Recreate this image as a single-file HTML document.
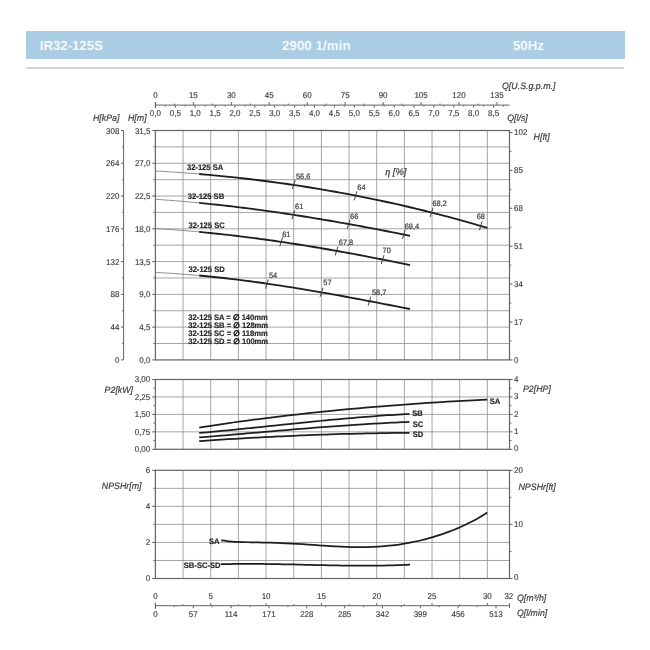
<!DOCTYPE html>
<html><head><meta charset="utf-8"><title>IR32-125S</title>
<style>
html,body{margin:0;padding:0;background:#fff;}
body{width:650px;height:650px;position:relative;overflow:hidden;font-family:"Liberation Sans",sans-serif;}
.bar{position:absolute;left:26.2px;top:30.7px;width:599.2px;height:28.5px;background:#aacde4;}
.bar span.m{letter-spacing:0.12px;}
.bar span{text-rendering:geometricPrecision;position:absolute;top:0;line-height:30.6px;color:#f5f9fc;font-weight:bold;font-size:13.2px;white-space:nowrap;}
.rule{position:absolute;left:26.2px;top:67.2px;width:598px;height:1.6px;background:#d2d2d2;}
svg{position:absolute;left:0;top:0;text-rendering:geometricPrecision;will-change:transform;}
svg text{font-family:"Liberation Sans",sans-serif;fill:#3a3a3a;}
.t{font-size:8.4px;stroke:#3a3a3a;stroke-width:0.15px;}
.e{font-size:7.8px;stroke:#3a3a3a;stroke-width:0.2px;}
.i{font-size:9.2px;font-style:italic;stroke:#3a3a3a;stroke-width:0.18px;}
.b{font-size:8px;font-weight:bold;fill:#262626;stroke:#262626;stroke-width:0.18px;}
</style></head>
<body>
<div class="bar"><span style="left:13.6px">IR32-125S</span><span class="m" style="left:255.8px">2900 1/min</span><span style="left:486.8px">50Hz</span></div>
<div class="rule"></div>
<svg width="650" height="650" viewBox="0 0 650 650">
<line x1="183.06" y1="130.50" x2="183.06" y2="359.90" stroke="#8e8e8e" stroke-width="0.8"/>
<line x1="210.73" y1="130.50" x2="210.73" y2="359.90" stroke="#8e8e8e" stroke-width="0.8"/>
<line x1="238.39" y1="130.50" x2="238.39" y2="359.90" stroke="#8e8e8e" stroke-width="0.8"/>
<line x1="266.06" y1="130.50" x2="266.06" y2="359.90" stroke="#8e8e8e" stroke-width="0.8"/>
<line x1="293.72" y1="130.50" x2="293.72" y2="359.90" stroke="#8e8e8e" stroke-width="0.8"/>
<line x1="321.38" y1="130.50" x2="321.38" y2="359.90" stroke="#8e8e8e" stroke-width="0.8"/>
<line x1="349.05" y1="130.50" x2="349.05" y2="359.90" stroke="#8e8e8e" stroke-width="0.8"/>
<line x1="376.71" y1="130.50" x2="376.71" y2="359.90" stroke="#8e8e8e" stroke-width="0.8"/>
<line x1="404.38" y1="130.50" x2="404.38" y2="359.90" stroke="#8e8e8e" stroke-width="0.8"/>
<line x1="432.04" y1="130.50" x2="432.04" y2="359.90" stroke="#8e8e8e" stroke-width="0.8"/>
<line x1="459.70" y1="130.50" x2="459.70" y2="359.90" stroke="#8e8e8e" stroke-width="0.8"/>
<line x1="487.37" y1="130.50" x2="487.37" y2="359.90" stroke="#8e8e8e" stroke-width="0.8"/>
<line x1="155.40" y1="146.89" x2="509.50" y2="146.89" stroke="#8e8e8e" stroke-width="0.8"/>
<line x1="155.40" y1="163.27" x2="509.50" y2="163.27" stroke="#8e8e8e" stroke-width="0.8"/>
<line x1="155.40" y1="179.66" x2="509.50" y2="179.66" stroke="#8e8e8e" stroke-width="0.8"/>
<line x1="155.40" y1="196.04" x2="509.50" y2="196.04" stroke="#8e8e8e" stroke-width="0.8"/>
<line x1="155.40" y1="212.43" x2="509.50" y2="212.43" stroke="#8e8e8e" stroke-width="0.8"/>
<line x1="155.40" y1="228.81" x2="509.50" y2="228.81" stroke="#8e8e8e" stroke-width="0.8"/>
<line x1="155.40" y1="245.20" x2="509.50" y2="245.20" stroke="#8e8e8e" stroke-width="0.8"/>
<line x1="155.40" y1="261.59" x2="509.50" y2="261.59" stroke="#8e8e8e" stroke-width="0.8"/>
<line x1="155.40" y1="277.97" x2="509.50" y2="277.97" stroke="#8e8e8e" stroke-width="0.8"/>
<line x1="155.40" y1="294.36" x2="509.50" y2="294.36" stroke="#8e8e8e" stroke-width="0.8"/>
<line x1="155.40" y1="310.74" x2="509.50" y2="310.74" stroke="#8e8e8e" stroke-width="0.8"/>
<line x1="155.40" y1="327.13" x2="509.50" y2="327.13" stroke="#8e8e8e" stroke-width="0.8"/>
<line x1="155.40" y1="343.51" x2="509.50" y2="343.51" stroke="#8e8e8e" stroke-width="0.8"/>
<rect x="155.40" y="130.50" width="354.10" height="229.40" fill="none" stroke="#686868" stroke-width="1.25"/>
<line x1="183.06" y1="379.50" x2="183.06" y2="449.30" stroke="#8e8e8e" stroke-width="0.8"/>
<line x1="210.73" y1="379.50" x2="210.73" y2="449.30" stroke="#8e8e8e" stroke-width="0.8"/>
<line x1="238.39" y1="379.50" x2="238.39" y2="449.30" stroke="#8e8e8e" stroke-width="0.8"/>
<line x1="266.06" y1="379.50" x2="266.06" y2="449.30" stroke="#8e8e8e" stroke-width="0.8"/>
<line x1="293.72" y1="379.50" x2="293.72" y2="449.30" stroke="#8e8e8e" stroke-width="0.8"/>
<line x1="321.38" y1="379.50" x2="321.38" y2="449.30" stroke="#8e8e8e" stroke-width="0.8"/>
<line x1="349.05" y1="379.50" x2="349.05" y2="449.30" stroke="#8e8e8e" stroke-width="0.8"/>
<line x1="376.71" y1="379.50" x2="376.71" y2="449.30" stroke="#8e8e8e" stroke-width="0.8"/>
<line x1="404.38" y1="379.50" x2="404.38" y2="449.30" stroke="#8e8e8e" stroke-width="0.8"/>
<line x1="432.04" y1="379.50" x2="432.04" y2="449.30" stroke="#8e8e8e" stroke-width="0.8"/>
<line x1="459.70" y1="379.50" x2="459.70" y2="449.30" stroke="#8e8e8e" stroke-width="0.8"/>
<line x1="487.37" y1="379.50" x2="487.37" y2="449.30" stroke="#8e8e8e" stroke-width="0.8"/>
<line x1="155.40" y1="396.95" x2="509.50" y2="396.95" stroke="#8e8e8e" stroke-width="0.8"/>
<line x1="155.40" y1="414.40" x2="509.50" y2="414.40" stroke="#8e8e8e" stroke-width="0.8"/>
<line x1="155.40" y1="431.85" x2="509.50" y2="431.85" stroke="#8e8e8e" stroke-width="0.8"/>
<rect x="155.40" y="379.50" width="354.10" height="69.80" fill="none" stroke="#686868" stroke-width="1.25"/>
<line x1="183.06" y1="470.30" x2="183.06" y2="578.50" stroke="#8e8e8e" stroke-width="0.8"/>
<line x1="210.73" y1="470.30" x2="210.73" y2="578.50" stroke="#8e8e8e" stroke-width="0.8"/>
<line x1="238.39" y1="470.30" x2="238.39" y2="578.50" stroke="#8e8e8e" stroke-width="0.8"/>
<line x1="266.06" y1="470.30" x2="266.06" y2="578.50" stroke="#8e8e8e" stroke-width="0.8"/>
<line x1="293.72" y1="470.30" x2="293.72" y2="578.50" stroke="#8e8e8e" stroke-width="0.8"/>
<line x1="321.38" y1="470.30" x2="321.38" y2="578.50" stroke="#8e8e8e" stroke-width="0.8"/>
<line x1="349.05" y1="470.30" x2="349.05" y2="578.50" stroke="#8e8e8e" stroke-width="0.8"/>
<line x1="376.71" y1="470.30" x2="376.71" y2="578.50" stroke="#8e8e8e" stroke-width="0.8"/>
<line x1="404.38" y1="470.30" x2="404.38" y2="578.50" stroke="#8e8e8e" stroke-width="0.8"/>
<line x1="432.04" y1="470.30" x2="432.04" y2="578.50" stroke="#8e8e8e" stroke-width="0.8"/>
<line x1="459.70" y1="470.30" x2="459.70" y2="578.50" stroke="#8e8e8e" stroke-width="0.8"/>
<line x1="487.37" y1="470.30" x2="487.37" y2="578.50" stroke="#8e8e8e" stroke-width="0.8"/>
<line x1="155.40" y1="488.33" x2="509.50" y2="488.33" stroke="#8e8e8e" stroke-width="0.8"/>
<line x1="155.40" y1="506.37" x2="509.50" y2="506.37" stroke="#8e8e8e" stroke-width="0.8"/>
<line x1="155.40" y1="524.40" x2="509.50" y2="524.40" stroke="#8e8e8e" stroke-width="0.8"/>
<line x1="155.40" y1="542.43" x2="509.50" y2="542.43" stroke="#8e8e8e" stroke-width="0.8"/>
<line x1="155.40" y1="560.47" x2="509.50" y2="560.47" stroke="#8e8e8e" stroke-width="0.8"/>
<rect x="155.40" y="470.30" width="354.10" height="108.20" fill="none" stroke="#686868" stroke-width="1.25"/>
<line x1="123.60" y1="130.50" x2="123.60" y2="359.90" stroke="#626262" stroke-width="1.0"/>
<line x1="152.20" y1="130.50" x2="155.40" y2="130.50" stroke="#626262" stroke-width="1.0"/>
<line x1="121.00" y1="130.50" x2="123.60" y2="130.50" stroke="#626262" stroke-width="1.0"/>
<text transform="translate(150.40,133.50) scale(0.95,1)" class="t" text-anchor="end">31,5</text>
<text transform="translate(119.40,133.50) scale(0.95,1)" class="t" text-anchor="end">308</text>
<line x1="153.40" y1="146.89" x2="155.40" y2="146.89" stroke="#626262" stroke-width="0.9"/>
<line x1="122.10" y1="146.89" x2="123.60" y2="146.89" stroke="#626262" stroke-width="0.9"/>
<line x1="152.20" y1="163.27" x2="155.40" y2="163.27" stroke="#626262" stroke-width="1.0"/>
<line x1="121.00" y1="163.27" x2="123.60" y2="163.27" stroke="#626262" stroke-width="1.0"/>
<text transform="translate(150.40,166.27) scale(0.95,1)" class="t" text-anchor="end">27,0</text>
<text transform="translate(119.40,166.27) scale(0.95,1)" class="t" text-anchor="end">264</text>
<line x1="153.40" y1="179.66" x2="155.40" y2="179.66" stroke="#626262" stroke-width="0.9"/>
<line x1="122.10" y1="179.66" x2="123.60" y2="179.66" stroke="#626262" stroke-width="0.9"/>
<line x1="152.20" y1="196.04" x2="155.40" y2="196.04" stroke="#626262" stroke-width="1.0"/>
<line x1="121.00" y1="196.04" x2="123.60" y2="196.04" stroke="#626262" stroke-width="1.0"/>
<text transform="translate(150.40,199.04) scale(0.95,1)" class="t" text-anchor="end">22,5</text>
<text transform="translate(119.40,199.04) scale(0.95,1)" class="t" text-anchor="end">220</text>
<line x1="153.40" y1="212.43" x2="155.40" y2="212.43" stroke="#626262" stroke-width="0.9"/>
<line x1="122.10" y1="212.43" x2="123.60" y2="212.43" stroke="#626262" stroke-width="0.9"/>
<line x1="152.20" y1="228.81" x2="155.40" y2="228.81" stroke="#626262" stroke-width="1.0"/>
<line x1="121.00" y1="228.81" x2="123.60" y2="228.81" stroke="#626262" stroke-width="1.0"/>
<text transform="translate(150.40,231.81) scale(0.95,1)" class="t" text-anchor="end">18,0</text>
<text transform="translate(119.40,231.81) scale(0.95,1)" class="t" text-anchor="end">176</text>
<line x1="153.40" y1="245.20" x2="155.40" y2="245.20" stroke="#626262" stroke-width="0.9"/>
<line x1="122.10" y1="245.20" x2="123.60" y2="245.20" stroke="#626262" stroke-width="0.9"/>
<line x1="152.20" y1="261.59" x2="155.40" y2="261.59" stroke="#626262" stroke-width="1.0"/>
<line x1="121.00" y1="261.59" x2="123.60" y2="261.59" stroke="#626262" stroke-width="1.0"/>
<text transform="translate(150.40,264.59) scale(0.95,1)" class="t" text-anchor="end">13,5</text>
<text transform="translate(119.40,264.59) scale(0.95,1)" class="t" text-anchor="end">132</text>
<line x1="153.40" y1="277.97" x2="155.40" y2="277.97" stroke="#626262" stroke-width="0.9"/>
<line x1="122.10" y1="277.97" x2="123.60" y2="277.97" stroke="#626262" stroke-width="0.9"/>
<line x1="152.20" y1="294.36" x2="155.40" y2="294.36" stroke="#626262" stroke-width="1.0"/>
<line x1="121.00" y1="294.36" x2="123.60" y2="294.36" stroke="#626262" stroke-width="1.0"/>
<text transform="translate(150.40,297.36) scale(0.95,1)" class="t" text-anchor="end">9,0</text>
<text transform="translate(119.40,297.36) scale(0.95,1)" class="t" text-anchor="end">88</text>
<line x1="153.40" y1="310.74" x2="155.40" y2="310.74" stroke="#626262" stroke-width="0.9"/>
<line x1="122.10" y1="310.74" x2="123.60" y2="310.74" stroke="#626262" stroke-width="0.9"/>
<line x1="152.20" y1="327.13" x2="155.40" y2="327.13" stroke="#626262" stroke-width="1.0"/>
<line x1="121.00" y1="327.13" x2="123.60" y2="327.13" stroke="#626262" stroke-width="1.0"/>
<text transform="translate(150.40,330.13) scale(0.95,1)" class="t" text-anchor="end">4,5</text>
<text transform="translate(119.40,330.13) scale(0.95,1)" class="t" text-anchor="end">44</text>
<line x1="153.40" y1="343.51" x2="155.40" y2="343.51" stroke="#626262" stroke-width="0.9"/>
<line x1="122.10" y1="343.51" x2="123.60" y2="343.51" stroke="#626262" stroke-width="0.9"/>
<line x1="152.20" y1="359.90" x2="155.40" y2="359.90" stroke="#626262" stroke-width="1.0"/>
<line x1="121.00" y1="359.90" x2="123.60" y2="359.90" stroke="#626262" stroke-width="1.0"/>
<text transform="translate(150.40,362.90) scale(0.95,1)" class="t" text-anchor="end">0,0</text>
<text transform="translate(119.40,362.90) scale(0.95,1)" class="t" text-anchor="end">0</text>
<text transform="translate(93.00,121.20) scale(0.96,1)" class="i" text-anchor="start">H[kPa]</text>
<text transform="translate(128.00,121.20) scale(0.96,1)" class="i" text-anchor="start">H[m]</text>
<line x1="509.50" y1="359.90" x2="512.50" y2="359.90" stroke="#626262" stroke-width="1.0"/>
<line x1="509.50" y1="340.95" x2="511.50" y2="340.95" stroke="#626262" stroke-width="0.9"/>
<line x1="509.50" y1="322.00" x2="512.50" y2="322.00" stroke="#626262" stroke-width="1.0"/>
<line x1="509.50" y1="303.05" x2="511.50" y2="303.05" stroke="#626262" stroke-width="0.9"/>
<line x1="509.50" y1="284.10" x2="512.50" y2="284.10" stroke="#626262" stroke-width="1.0"/>
<line x1="509.50" y1="265.15" x2="511.50" y2="265.15" stroke="#626262" stroke-width="0.9"/>
<line x1="509.50" y1="246.20" x2="512.50" y2="246.20" stroke="#626262" stroke-width="1.0"/>
<line x1="509.50" y1="227.25" x2="511.50" y2="227.25" stroke="#626262" stroke-width="0.9"/>
<line x1="509.50" y1="208.30" x2="512.50" y2="208.30" stroke="#626262" stroke-width="1.0"/>
<line x1="509.50" y1="189.35" x2="511.50" y2="189.35" stroke="#626262" stroke-width="0.9"/>
<line x1="509.50" y1="170.40" x2="512.50" y2="170.40" stroke="#626262" stroke-width="1.0"/>
<line x1="509.50" y1="151.45" x2="511.50" y2="151.45" stroke="#626262" stroke-width="0.9"/>
<line x1="509.50" y1="132.50" x2="512.50" y2="132.50" stroke="#626262" stroke-width="1.0"/>
<text transform="translate(514.10,362.60) scale(0.95,1)" class="t" text-anchor="start">0</text>
<text transform="translate(514.10,324.70) scale(0.95,1)" class="t" text-anchor="start">17</text>
<text transform="translate(514.10,286.80) scale(0.95,1)" class="t" text-anchor="start">34</text>
<text transform="translate(514.10,248.90) scale(0.95,1)" class="t" text-anchor="start">51</text>
<text transform="translate(514.10,211.00) scale(0.95,1)" class="t" text-anchor="start">68</text>
<text transform="translate(514.10,173.10) scale(0.95,1)" class="t" text-anchor="start">85</text>
<text transform="translate(514.10,135.20) scale(0.95,1)" class="t" text-anchor="start">102</text>
<text transform="translate(533.60,139.50) scale(0.96,1)" class="i" text-anchor="start">H[ft]</text>
<line x1="155.40" y1="105.10" x2="509.50" y2="105.10" stroke="#626262" stroke-width="1.0"/>
<line x1="155.40" y1="102.10" x2="155.40" y2="108.10" stroke="#626262" stroke-width="1.0"/>
<line x1="155.40" y1="102.10" x2="155.40" y2="105.10" stroke="#626262" stroke-width="1.0"/>
<text transform="translate(155.40,98.20) scale(0.95,1)" class="t" text-anchor="middle">0</text>
<line x1="174.38" y1="103.50" x2="174.38" y2="105.10" stroke="#626262" stroke-width="0.9"/>
<line x1="193.35" y1="102.10" x2="193.35" y2="105.10" stroke="#626262" stroke-width="1.0"/>
<text transform="translate(193.35,98.20) scale(0.95,1)" class="t" text-anchor="middle">15</text>
<line x1="212.33" y1="103.50" x2="212.33" y2="105.10" stroke="#626262" stroke-width="0.9"/>
<line x1="231.30" y1="102.10" x2="231.30" y2="105.10" stroke="#626262" stroke-width="1.0"/>
<text transform="translate(231.30,98.20) scale(0.95,1)" class="t" text-anchor="middle">30</text>
<line x1="250.28" y1="103.50" x2="250.28" y2="105.10" stroke="#626262" stroke-width="0.9"/>
<line x1="269.25" y1="102.10" x2="269.25" y2="105.10" stroke="#626262" stroke-width="1.0"/>
<text transform="translate(269.25,98.20) scale(0.95,1)" class="t" text-anchor="middle">45</text>
<line x1="288.23" y1="103.50" x2="288.23" y2="105.10" stroke="#626262" stroke-width="0.9"/>
<line x1="307.20" y1="102.10" x2="307.20" y2="105.10" stroke="#626262" stroke-width="1.0"/>
<text transform="translate(307.20,98.20) scale(0.95,1)" class="t" text-anchor="middle">60</text>
<line x1="326.18" y1="103.50" x2="326.18" y2="105.10" stroke="#626262" stroke-width="0.9"/>
<line x1="345.15" y1="102.10" x2="345.15" y2="105.10" stroke="#626262" stroke-width="1.0"/>
<text transform="translate(345.15,98.20) scale(0.95,1)" class="t" text-anchor="middle">75</text>
<line x1="364.12" y1="103.50" x2="364.12" y2="105.10" stroke="#626262" stroke-width="0.9"/>
<line x1="383.10" y1="102.10" x2="383.10" y2="105.10" stroke="#626262" stroke-width="1.0"/>
<text transform="translate(383.10,98.20) scale(0.95,1)" class="t" text-anchor="middle">90</text>
<line x1="402.08" y1="103.50" x2="402.08" y2="105.10" stroke="#626262" stroke-width="0.9"/>
<line x1="421.05" y1="102.10" x2="421.05" y2="105.10" stroke="#626262" stroke-width="1.0"/>
<text transform="translate(421.05,98.20) scale(0.95,1)" class="t" text-anchor="middle">105</text>
<line x1="440.02" y1="103.50" x2="440.02" y2="105.10" stroke="#626262" stroke-width="0.9"/>
<line x1="459.00" y1="102.10" x2="459.00" y2="105.10" stroke="#626262" stroke-width="1.0"/>
<text transform="translate(459.00,98.20) scale(0.95,1)" class="t" text-anchor="middle">120</text>
<line x1="477.98" y1="103.50" x2="477.98" y2="105.10" stroke="#626262" stroke-width="0.9"/>
<line x1="496.95" y1="102.10" x2="496.95" y2="105.10" stroke="#626262" stroke-width="1.0"/>
<text transform="translate(496.95,98.20) scale(0.95,1)" class="t" text-anchor="middle">135</text>
<line x1="155.40" y1="105.10" x2="155.40" y2="107.70" stroke="#626262" stroke-width="1.0"/>
<text transform="translate(155.40,116.20) scale(0.95,1)" class="t" text-anchor="middle">0,0</text>
<line x1="165.34" y1="105.10" x2="165.34" y2="106.60" stroke="#626262" stroke-width="0.9"/>
<line x1="175.29" y1="105.10" x2="175.29" y2="107.70" stroke="#626262" stroke-width="1.0"/>
<text transform="translate(175.29,116.20) scale(0.95,1)" class="t" text-anchor="middle">0,5</text>
<line x1="185.24" y1="105.10" x2="185.24" y2="106.60" stroke="#626262" stroke-width="0.9"/>
<line x1="195.18" y1="105.10" x2="195.18" y2="107.70" stroke="#626262" stroke-width="1.0"/>
<text transform="translate(195.18,116.20) scale(0.95,1)" class="t" text-anchor="middle">1,0</text>
<line x1="205.12" y1="105.10" x2="205.12" y2="106.60" stroke="#626262" stroke-width="0.9"/>
<line x1="215.07" y1="105.10" x2="215.07" y2="107.70" stroke="#626262" stroke-width="1.0"/>
<text transform="translate(215.07,116.20) scale(0.95,1)" class="t" text-anchor="middle">1,5</text>
<line x1="225.02" y1="105.10" x2="225.02" y2="106.60" stroke="#626262" stroke-width="0.9"/>
<line x1="234.96" y1="105.10" x2="234.96" y2="107.70" stroke="#626262" stroke-width="1.0"/>
<text transform="translate(234.96,116.20) scale(0.95,1)" class="t" text-anchor="middle">2,0</text>
<line x1="244.91" y1="105.10" x2="244.91" y2="106.60" stroke="#626262" stroke-width="0.9"/>
<line x1="254.85" y1="105.10" x2="254.85" y2="107.70" stroke="#626262" stroke-width="1.0"/>
<text transform="translate(254.85,116.20) scale(0.95,1)" class="t" text-anchor="middle">2,5</text>
<line x1="264.80" y1="105.10" x2="264.80" y2="106.60" stroke="#626262" stroke-width="0.9"/>
<line x1="274.74" y1="105.10" x2="274.74" y2="107.70" stroke="#626262" stroke-width="1.0"/>
<text transform="translate(274.74,116.20) scale(0.95,1)" class="t" text-anchor="middle">3,0</text>
<line x1="284.69" y1="105.10" x2="284.69" y2="106.60" stroke="#626262" stroke-width="0.9"/>
<line x1="294.63" y1="105.10" x2="294.63" y2="107.70" stroke="#626262" stroke-width="1.0"/>
<text transform="translate(294.63,116.20) scale(0.95,1)" class="t" text-anchor="middle">3,5</text>
<line x1="304.58" y1="105.10" x2="304.58" y2="106.60" stroke="#626262" stroke-width="0.9"/>
<line x1="314.52" y1="105.10" x2="314.52" y2="107.70" stroke="#626262" stroke-width="1.0"/>
<text transform="translate(314.52,116.20) scale(0.95,1)" class="t" text-anchor="middle">4,0</text>
<line x1="324.47" y1="105.10" x2="324.47" y2="106.60" stroke="#626262" stroke-width="0.9"/>
<line x1="334.41" y1="105.10" x2="334.41" y2="107.70" stroke="#626262" stroke-width="1.0"/>
<text transform="translate(334.41,116.20) scale(0.95,1)" class="t" text-anchor="middle">4,5</text>
<line x1="344.36" y1="105.10" x2="344.36" y2="106.60" stroke="#626262" stroke-width="0.9"/>
<line x1="354.30" y1="105.10" x2="354.30" y2="107.70" stroke="#626262" stroke-width="1.0"/>
<text transform="translate(354.30,116.20) scale(0.95,1)" class="t" text-anchor="middle">5,0</text>
<line x1="364.25" y1="105.10" x2="364.25" y2="106.60" stroke="#626262" stroke-width="0.9"/>
<line x1="374.19" y1="105.10" x2="374.19" y2="107.70" stroke="#626262" stroke-width="1.0"/>
<text transform="translate(374.19,116.20) scale(0.95,1)" class="t" text-anchor="middle">5,5</text>
<line x1="384.13" y1="105.10" x2="384.13" y2="106.60" stroke="#626262" stroke-width="0.9"/>
<line x1="394.08" y1="105.10" x2="394.08" y2="107.70" stroke="#626262" stroke-width="1.0"/>
<text transform="translate(394.08,116.20) scale(0.95,1)" class="t" text-anchor="middle">6,0</text>
<line x1="404.02" y1="105.10" x2="404.02" y2="106.60" stroke="#626262" stroke-width="0.9"/>
<line x1="413.97" y1="105.10" x2="413.97" y2="107.70" stroke="#626262" stroke-width="1.0"/>
<text transform="translate(413.97,116.20) scale(0.95,1)" class="t" text-anchor="middle">6,5</text>
<line x1="423.91" y1="105.10" x2="423.91" y2="106.60" stroke="#626262" stroke-width="0.9"/>
<line x1="433.86" y1="105.10" x2="433.86" y2="107.70" stroke="#626262" stroke-width="1.0"/>
<text transform="translate(433.86,116.20) scale(0.95,1)" class="t" text-anchor="middle">7,0</text>
<line x1="443.81" y1="105.10" x2="443.81" y2="106.60" stroke="#626262" stroke-width="0.9"/>
<line x1="453.75" y1="105.10" x2="453.75" y2="107.70" stroke="#626262" stroke-width="1.0"/>
<text transform="translate(453.75,116.20) scale(0.95,1)" class="t" text-anchor="middle">7,5</text>
<line x1="463.70" y1="105.10" x2="463.70" y2="106.60" stroke="#626262" stroke-width="0.9"/>
<line x1="473.64" y1="105.10" x2="473.64" y2="107.70" stroke="#626262" stroke-width="1.0"/>
<text transform="translate(473.64,116.20) scale(0.95,1)" class="t" text-anchor="middle">8,0</text>
<line x1="483.59" y1="105.10" x2="483.59" y2="106.60" stroke="#626262" stroke-width="0.9"/>
<line x1="493.53" y1="105.10" x2="493.53" y2="107.70" stroke="#626262" stroke-width="1.0"/>
<text transform="translate(493.53,116.20) scale(0.95,1)" class="t" text-anchor="middle">8,5</text>
<line x1="503.48" y1="105.10" x2="503.48" y2="106.60" stroke="#626262" stroke-width="0.9"/>
<text transform="translate(502.00,89.00) scale(0.96,1)" class="i" text-anchor="start">Q[U.S.g.p.m.]</text>
<text transform="translate(507.20,121.20) scale(0.96,1)" class="i" text-anchor="start">Q[l/s]</text>
<path d="M155.40,170.96 C156.46,171.03 159.65,171.21 161.77,171.33 C163.90,171.46 166.02,171.59 168.14,171.73 C170.27,171.87 172.39,172.01 174.51,172.15 C176.64,172.30 178.76,172.44 180.89,172.60 C183.01,172.75 185.13,172.91 187.26,173.07 C189.38,173.23 191.50,173.40 193.63,173.57 C195.75,173.74 198.94,174.01 200.00,174.10" fill="none" stroke="#808080" stroke-width="0.9" stroke-linecap="butt"/>
<path d="M199.20,174.03 C200.86,174.17 205.83,174.60 209.14,174.90 C212.45,175.20 215.76,175.51 219.08,175.83 C222.39,176.15 225.70,176.48 229.01,176.83 C232.33,177.17 235.64,177.52 238.95,177.89 C242.26,178.26 245.58,178.63 248.89,179.02 C252.20,179.41 255.51,179.81 258.83,180.22 C262.14,180.63 265.45,181.05 268.77,181.49 C272.08,181.92 275.39,182.37 278.70,182.82 C282.02,183.28 285.33,183.75 288.64,184.23 C291.95,184.71 295.27,185.20 298.58,185.71 C301.89,186.21 305.20,186.73 308.52,187.25 C311.83,187.78 315.14,188.32 318.46,188.87 C321.77,189.42 325.08,189.99 328.39,190.56 C331.71,191.14 335.02,191.73 338.33,192.33 C341.64,192.93 344.96,193.54 348.27,194.16 C351.58,194.79 354.89,195.42 358.21,196.07 C361.52,196.72 364.83,197.38 368.14,198.06 C371.46,198.73 374.77,199.42 378.08,200.12 C381.40,200.82 384.71,201.53 388.02,202.26 C391.33,202.98 394.65,203.72 397.96,204.47 C401.27,205.22 404.58,205.99 407.90,206.76 C411.21,207.54 414.52,208.33 417.83,209.13 C421.15,209.94 424.46,210.75 427.77,211.58 C431.09,212.41 434.40,213.25 437.71,214.11 C441.02,214.96 444.34,215.83 447.65,216.71 C450.96,217.60 454.27,218.49 457.59,219.40 C460.90,220.31 464.21,221.23 467.52,222.17 C470.84,223.11 474.15,224.06 477.46,225.02 C480.77,225.99 485.74,227.47 487.40,227.96" fill="none" stroke="#1e1e1e" stroke-width="1.85" stroke-linecap="butt"/>
<path d="M155.40,199.30 C156.46,199.38 159.65,199.59 161.77,199.74 C163.90,199.89 166.02,200.05 168.14,200.21 C170.27,200.37 172.39,200.53 174.51,200.70 C176.64,200.87 178.76,201.05 180.89,201.23 C183.01,201.41 185.13,201.59 187.26,201.78 C189.38,201.97 191.50,202.17 193.63,202.37 C195.75,202.56 198.94,202.87 200.00,202.97" fill="none" stroke="#808080" stroke-width="0.9" stroke-linecap="butt"/>
<path d="M199.20,202.90 C200.41,203.02 204.05,203.37 206.47,203.62 C208.90,203.87 211.32,204.12 213.74,204.38 C216.17,204.64 218.59,204.91 221.02,205.18 C223.44,205.45 225.87,205.72 228.29,206.00 C230.71,206.28 233.14,206.57 235.56,206.86 C237.99,207.16 240.41,207.45 242.83,207.76 C245.26,208.06 247.68,208.37 250.11,208.68 C252.53,209.00 254.96,209.32 257.38,209.64 C259.80,209.96 262.23,210.29 264.65,210.63 C267.08,210.96 269.50,211.30 271.92,211.64 C274.35,211.99 276.77,212.34 279.20,212.69 C281.62,213.04 284.04,213.40 286.47,213.76 C288.89,214.13 291.32,214.49 293.74,214.87 C296.17,215.24 298.59,215.62 301.01,216.00 C303.44,216.38 305.86,216.76 308.29,217.16 C310.71,217.55 313.13,217.94 315.56,218.34 C317.98,218.74 320.41,219.14 322.83,219.55 C325.26,219.96 327.68,220.37 330.10,220.78 C332.53,221.20 334.95,221.62 337.38,222.04 C339.80,222.46 342.22,222.89 344.65,223.32 C347.07,223.75 349.50,224.19 351.92,224.63 C354.34,225.07 356.77,225.51 359.19,225.96 C361.62,226.40 364.04,226.85 366.47,227.31 C368.89,227.76 371.31,228.22 373.74,228.68 C376.16,229.14 378.59,229.60 381.01,230.07 C383.43,230.54 385.86,231.01 388.28,231.48 C390.71,231.95 393.13,232.43 395.56,232.91 C397.98,233.39 400.40,233.88 402.83,234.36 C405.25,234.85 408.89,235.59 410.10,235.83" fill="none" stroke="#1e1e1e" stroke-width="1.85" stroke-linecap="butt"/>
<path d="M155.40,228.55 C156.46,228.62 159.65,228.81 161.77,228.95 C163.90,229.08 166.02,229.23 168.14,229.37 C170.27,229.52 172.39,229.68 174.51,229.83 C176.64,229.99 178.76,230.16 180.89,230.33 C183.01,230.49 185.13,230.67 187.26,230.85 C189.38,231.03 191.50,231.21 193.63,231.40 C195.75,231.59 198.94,231.89 200.00,231.99" fill="none" stroke="#808080" stroke-width="0.9" stroke-linecap="butt"/>
<path d="M199.20,231.91 C200.41,232.03 204.05,232.37 206.47,232.61 C208.90,232.85 211.32,233.09 213.74,233.35 C216.17,233.60 218.59,233.86 221.02,234.12 C223.44,234.38 225.87,234.65 228.29,234.93 C230.71,235.21 233.14,235.49 235.56,235.78 C237.99,236.07 240.41,236.36 242.83,236.66 C245.26,236.96 247.68,237.26 250.11,237.58 C252.53,237.89 254.96,238.20 257.38,238.53 C259.80,238.85 262.23,239.18 264.65,239.51 C267.08,239.84 269.50,240.18 271.92,240.53 C274.35,240.87 276.77,241.22 279.20,241.58 C281.62,241.93 284.04,242.29 286.47,242.66 C288.89,243.02 291.32,243.39 293.74,243.77 C296.17,244.14 298.59,244.52 301.01,244.91 C303.44,245.29 305.86,245.68 308.29,246.07 C310.71,246.47 313.13,246.87 315.56,247.27 C317.98,247.68 320.41,248.08 322.83,248.50 C325.26,248.91 327.68,249.33 330.10,249.75 C332.53,250.17 334.95,250.60 337.38,251.03 C339.80,251.46 342.22,251.89 344.65,252.33 C347.07,252.77 349.50,253.22 351.92,253.66 C354.34,254.11 356.77,254.56 359.19,255.02 C361.62,255.47 364.04,255.93 366.47,256.39 C368.89,256.86 371.31,257.32 373.74,257.80 C376.16,258.27 378.59,258.74 381.01,259.22 C383.43,259.70 385.86,260.18 388.28,260.66 C390.71,261.15 393.13,261.64 395.56,262.13 C397.98,262.62 400.40,263.12 402.83,263.61 C405.25,264.11 408.89,264.87 410.10,265.12" fill="none" stroke="#1e1e1e" stroke-width="1.85" stroke-linecap="butt"/>
<path d="M155.40,272.44 C156.46,272.50 159.65,272.66 161.77,272.77 C163.90,272.89 166.02,273.01 168.14,273.15 C170.27,273.28 172.39,273.41 174.51,273.56 C176.64,273.70 178.76,273.86 180.89,274.01 C183.01,274.17 185.13,274.34 187.26,274.51 C189.38,274.68 191.50,274.86 193.63,275.04 C195.75,275.22 198.94,275.52 200.00,275.61" fill="none" stroke="#808080" stroke-width="0.9" stroke-linecap="butt"/>
<path d="M199.20,275.54 C200.41,275.65 204.04,275.99 206.47,276.23 C208.89,276.46 211.31,276.71 213.73,276.96 C216.15,277.22 218.57,277.48 221.00,277.74 C223.42,278.01 225.84,278.29 228.26,278.57 C230.68,278.85 233.11,279.14 235.53,279.44 C237.95,279.73 240.37,280.03 242.79,280.34 C245.21,280.65 247.64,280.97 250.06,281.29 C252.48,281.61 254.90,281.94 257.32,282.27 C259.75,282.61 262.17,282.95 264.59,283.29 C267.01,283.64 269.43,283.99 271.86,284.35 C274.28,284.70 276.70,285.07 279.12,285.43 C281.54,285.80 283.96,286.18 286.39,286.55 C288.81,286.93 291.23,287.31 293.65,287.70 C296.07,288.09 298.50,288.48 300.92,288.88 C303.34,289.28 305.76,289.68 308.18,290.09 C310.60,290.49 313.03,290.90 315.45,291.32 C317.87,291.73 320.29,292.15 322.71,292.58 C325.14,293.00 327.56,293.42 329.98,293.85 C332.40,294.28 334.82,294.72 337.24,295.16 C339.67,295.59 342.09,296.03 344.51,296.48 C346.93,296.92 349.35,297.37 351.78,297.82 C354.20,298.26 356.62,298.72 359.04,299.17 C361.46,299.63 363.89,300.08 366.31,300.54 C368.73,301.00 371.15,301.47 373.57,301.93 C375.99,302.39 378.42,302.86 380.84,303.33 C383.26,303.80 385.68,304.27 388.10,304.74 C390.53,305.21 392.95,305.69 395.37,306.16 C397.79,306.64 400.21,307.11 402.63,307.59 C405.06,308.07 408.69,308.79 409.90,309.03" fill="none" stroke="#1e1e1e" stroke-width="1.85" stroke-linecap="butt"/>
<text transform="translate(186.90,169.50) scale(0.95,1)" class="b" text-anchor="start">32-125 SA</text>
<text transform="translate(187.80,198.70) scale(0.95,1)" class="b" text-anchor="start">32-125 SB</text>
<text transform="translate(188.40,227.90) scale(0.95,1)" class="b" text-anchor="start">32-125 SC</text>
<text transform="translate(188.40,271.80) scale(0.95,1)" class="b" text-anchor="start">32-125 SD</text>
<line x1="292.40" y1="189.00" x2="295.20" y2="180.00" stroke="#3a3a3a" stroke-width="0.95"/>
<text transform="translate(296.00,178.90) scale(0.95,1)" class="e" text-anchor="start">56,6</text>
<line x1="354.20" y1="200.30" x2="357.00" y2="191.30" stroke="#3a3a3a" stroke-width="0.95"/>
<text transform="translate(357.30,190.30) scale(0.95,1)" class="e" text-anchor="start">64</text>
<line x1="430.10" y1="217.10" x2="432.90" y2="208.10" stroke="#3a3a3a" stroke-width="0.95"/>
<text transform="translate(432.40,206.00) scale(0.95,1)" class="e" text-anchor="start">68,2</text>
<line x1="479.40" y1="230.40" x2="482.20" y2="221.40" stroke="#3a3a3a" stroke-width="0.95"/>
<text transform="translate(476.70,218.90) scale(0.95,1)" class="e" text-anchor="start">68</text>
<line x1="292.00" y1="219.30" x2="294.80" y2="210.30" stroke="#3a3a3a" stroke-width="0.95"/>
<text transform="translate(295.10,209.30) scale(0.95,1)" class="e" text-anchor="start">61</text>
<line x1="347.20" y1="228.70" x2="350.00" y2="219.70" stroke="#3a3a3a" stroke-width="0.95"/>
<text transform="translate(350.10,218.60) scale(0.95,1)" class="e" text-anchor="start">66</text>
<line x1="402.40" y1="238.90" x2="405.20" y2="229.90" stroke="#3a3a3a" stroke-width="0.95"/>
<text transform="translate(404.70,228.70) scale(0.95,1)" class="e" text-anchor="start">69,4</text>
<line x1="279.80" y1="246.30" x2="282.60" y2="237.30" stroke="#3a3a3a" stroke-width="0.95"/>
<text transform="translate(282.20,236.50) scale(0.95,1)" class="e" text-anchor="start">61</text>
<line x1="335.20" y1="255.50" x2="338.00" y2="246.50" stroke="#3a3a3a" stroke-width="0.95"/>
<text transform="translate(338.80,245.30) scale(0.95,1)" class="e" text-anchor="start">67,8</text>
<line x1="381.20" y1="264.20" x2="384.00" y2="255.20" stroke="#3a3a3a" stroke-width="0.95"/>
<text transform="translate(382.60,253.10) scale(0.95,1)" class="e" text-anchor="start">70</text>
<line x1="265.50" y1="288.50" x2="268.30" y2="279.50" stroke="#3a3a3a" stroke-width="0.95"/>
<text transform="translate(268.90,277.50) scale(0.95,1)" class="e" text-anchor="start">54</text>
<line x1="320.10" y1="296.80" x2="322.90" y2="287.80" stroke="#3a3a3a" stroke-width="0.95"/>
<text transform="translate(323.30,284.90) scale(0.95,1)" class="e" text-anchor="start">57</text>
<line x1="368.10" y1="305.70" x2="370.90" y2="296.70" stroke="#3a3a3a" stroke-width="0.95"/>
<text transform="translate(372.00,294.70) scale(0.95,1)" class="e" text-anchor="start">58,7</text>
<text transform="translate(385.3,175.3) scale(0.98,1)" class="i" style="font-size:9.6px;stroke-width:0.2px"><tspan style="font-family:'Liberation Serif',serif;font-size:10.2px;stroke-width:0.3px">&#951;</tspan> [%]</text>
<text transform="translate(188.20,319.60) scale(0.95,1)" class="b" text-anchor="start">32-125 SA = &#8709; 140mm</text>
<text transform="translate(188.20,327.80) scale(0.95,1)" class="b" text-anchor="start">32-125 SB = &#8709; 128mm</text>
<text transform="translate(188.20,336.00) scale(0.95,1)" class="b" text-anchor="start">32-125 SC = &#8709; 118mm</text>
<text transform="translate(188.20,344.20) scale(0.95,1)" class="b" text-anchor="start">32-125 SD = &#8709; 100mm</text>
<line x1="152.20" y1="379.50" x2="155.40" y2="379.50" stroke="#626262" stroke-width="1.0"/>
<text transform="translate(150.20,382.45) scale(0.95,1)" class="t" text-anchor="end">3,00</text>
<line x1="153.40" y1="388.23" x2="155.40" y2="388.23" stroke="#626262" stroke-width="0.9"/>
<line x1="152.20" y1="396.95" x2="155.40" y2="396.95" stroke="#626262" stroke-width="1.0"/>
<text transform="translate(150.20,399.90) scale(0.95,1)" class="t" text-anchor="end">2,25</text>
<line x1="153.40" y1="405.68" x2="155.40" y2="405.68" stroke="#626262" stroke-width="0.9"/>
<line x1="152.20" y1="414.40" x2="155.40" y2="414.40" stroke="#626262" stroke-width="1.0"/>
<text transform="translate(150.20,417.35) scale(0.95,1)" class="t" text-anchor="end">1,50</text>
<line x1="153.40" y1="423.12" x2="155.40" y2="423.12" stroke="#626262" stroke-width="0.9"/>
<line x1="152.20" y1="431.85" x2="155.40" y2="431.85" stroke="#626262" stroke-width="1.0"/>
<text transform="translate(150.20,434.80) scale(0.95,1)" class="t" text-anchor="end">0,75</text>
<line x1="153.40" y1="440.57" x2="155.40" y2="440.57" stroke="#626262" stroke-width="0.9"/>
<line x1="152.20" y1="449.30" x2="155.40" y2="449.30" stroke="#626262" stroke-width="1.0"/>
<text transform="translate(150.20,452.25) scale(0.95,1)" class="t" text-anchor="end">0,00</text>
<text transform="translate(104.60,393.10) scale(0.96,1)" class="i" text-anchor="start">P2[kW]</text>
<line x1="509.50" y1="449.30" x2="512.50" y2="449.30" stroke="#626262" stroke-width="1.0"/>
<text transform="translate(514.00,451.30) scale(0.95,1)" class="t" text-anchor="start">0</text>
<line x1="509.50" y1="440.57" x2="511.50" y2="440.57" stroke="#626262" stroke-width="0.9"/>
<line x1="509.50" y1="431.85" x2="512.50" y2="431.85" stroke="#626262" stroke-width="1.0"/>
<text transform="translate(514.00,434.25) scale(0.95,1)" class="t" text-anchor="start">1</text>
<line x1="509.50" y1="423.12" x2="511.50" y2="423.12" stroke="#626262" stroke-width="0.9"/>
<line x1="509.50" y1="414.40" x2="512.50" y2="414.40" stroke="#626262" stroke-width="1.0"/>
<text transform="translate(514.00,416.80) scale(0.95,1)" class="t" text-anchor="start">2</text>
<line x1="509.50" y1="405.68" x2="511.50" y2="405.68" stroke="#626262" stroke-width="0.9"/>
<line x1="509.50" y1="396.95" x2="512.50" y2="396.95" stroke="#626262" stroke-width="1.0"/>
<text transform="translate(514.00,399.35) scale(0.95,1)" class="t" text-anchor="start">3</text>
<line x1="509.50" y1="388.23" x2="511.50" y2="388.23" stroke="#626262" stroke-width="0.9"/>
<line x1="509.50" y1="379.50" x2="512.50" y2="379.50" stroke="#626262" stroke-width="1.0"/>
<text transform="translate(514.00,381.90) scale(0.95,1)" class="t" text-anchor="start">4</text>
<text transform="translate(522.90,392.20) scale(0.96,1)" class="i" text-anchor="start">P2[HP]</text>
<path d="M199.20,427.55 C200.86,427.30 205.82,426.52 209.13,426.02 C212.45,425.51 215.76,425.02 219.07,424.53 C222.38,424.04 225.69,423.56 229.00,423.09 C232.31,422.61 235.63,422.15 238.94,421.69 C242.25,421.23 245.56,420.79 248.87,420.34 C252.18,419.90 255.50,419.47 258.81,419.04 C262.12,418.61 265.43,418.19 268.74,417.78 C272.05,417.37 275.36,416.96 278.68,416.56 C281.99,416.16 285.30,415.77 288.61,415.39 C291.92,415.00 295.23,414.63 298.54,414.26 C301.86,413.88 305.17,413.52 308.48,413.16 C311.79,412.81 315.10,412.46 318.41,412.11 C321.73,411.77 325.04,411.43 328.35,411.10 C331.66,410.77 334.97,410.44 338.28,410.13 C341.59,409.81 344.91,409.50 348.22,409.19 C351.53,408.88 354.84,408.59 358.15,408.29 C361.46,408.00 364.77,407.71 368.09,407.43 C371.40,407.15 374.71,406.87 378.02,406.60 C381.33,406.33 384.64,406.07 387.96,405.81 C391.27,405.55 394.58,405.30 397.89,405.05 C401.20,404.80 404.51,404.56 407.82,404.33 C411.14,404.09 414.45,403.86 417.76,403.63 C421.07,403.41 424.38,403.19 427.69,402.97 C431.00,402.76 434.32,402.55 437.63,402.34 C440.94,402.14 444.25,401.94 447.56,401.74 C450.87,401.55 454.19,401.36 457.50,401.17 C460.81,400.98 464.12,400.80 467.43,400.63 C470.74,400.45 474.05,400.28 477.37,400.11 C480.68,399.95 485.64,399.71 487.30,399.62" fill="none" stroke="#1e1e1e" stroke-width="1.75" stroke-linecap="butt"/>
<path d="M199.20,432.96 C200.41,432.85 204.03,432.54 206.45,432.32 C208.87,432.11 211.29,431.89 213.70,431.67 C216.12,431.44 218.54,431.22 220.96,430.99 C223.37,430.76 225.79,430.53 228.21,430.29 C230.62,430.06 233.04,429.82 235.46,429.58 C237.88,429.34 240.29,429.10 242.71,428.86 C245.13,428.61 247.54,428.37 249.96,428.12 C252.38,427.87 254.80,427.63 257.21,427.38 C259.63,427.13 262.05,426.88 264.47,426.63 C266.88,426.38 269.30,426.12 271.72,425.87 C274.13,425.62 276.55,425.37 278.97,425.12 C281.39,424.86 283.80,424.61 286.22,424.36 C288.64,424.11 291.06,423.86 293.47,423.61 C295.89,423.36 298.31,423.11 300.72,422.87 C303.14,422.62 305.56,422.37 307.98,422.13 C310.39,421.88 312.81,421.64 315.23,421.40 C317.64,421.16 320.06,420.92 322.48,420.69 C324.90,420.45 327.31,420.22 329.73,419.99 C332.15,419.76 334.57,419.53 336.98,419.31 C339.40,419.09 341.82,418.86 344.23,418.65 C346.65,418.43 349.07,418.22 351.49,418.01 C353.90,417.80 356.32,417.60 358.74,417.40 C361.16,417.20 363.57,417.00 365.99,416.81 C368.41,416.62 370.82,416.44 373.24,416.26 C375.66,416.08 378.08,415.90 380.49,415.73 C382.91,415.56 385.33,415.40 387.74,415.24 C390.16,415.09 392.58,414.93 395.00,414.79 C397.41,414.65 399.83,414.51 402.25,414.38 C404.67,414.25 408.29,414.07 409.50,414.01" fill="none" stroke="#1e1e1e" stroke-width="1.75" stroke-linecap="butt"/>
<path d="M199.20,437.45 C200.41,437.35 204.03,437.06 206.45,436.86 C208.87,436.66 211.29,436.45 213.70,436.25 C216.12,436.05 218.54,435.84 220.96,435.64 C223.37,435.44 225.79,435.23 228.21,435.02 C230.62,434.82 233.04,434.61 235.46,434.40 C237.88,434.19 240.29,433.99 242.71,433.78 C245.13,433.57 247.54,433.36 249.96,433.15 C252.38,432.94 254.80,432.74 257.21,432.53 C259.63,432.32 262.05,432.11 264.47,431.91 C266.88,431.70 269.30,431.49 271.72,431.29 C274.13,431.08 276.55,430.87 278.97,430.67 C281.39,430.46 283.80,430.26 286.22,430.06 C288.64,429.86 291.06,429.66 293.47,429.46 C295.89,429.26 298.31,429.06 300.72,428.86 C303.14,428.66 305.56,428.47 307.98,428.28 C310.39,428.08 312.81,427.89 315.23,427.70 C317.64,427.51 320.06,427.33 322.48,427.14 C324.90,426.96 327.31,426.78 329.73,426.60 C332.15,426.42 334.57,426.24 336.98,426.07 C339.40,425.89 341.82,425.72 344.23,425.55 C346.65,425.38 349.07,425.22 351.49,425.06 C353.90,424.89 356.32,424.73 358.74,424.58 C361.16,424.42 363.57,424.27 365.99,424.12 C368.41,423.98 370.82,423.83 373.24,423.69 C375.66,423.55 378.08,423.42 380.49,423.28 C382.91,423.15 385.33,423.02 387.74,422.90 C390.16,422.78 392.58,422.66 395.00,422.54 C397.41,422.43 399.83,422.32 402.25,422.21 C404.67,422.11 408.29,421.96 409.50,421.91" fill="none" stroke="#1e1e1e" stroke-width="1.75" stroke-linecap="butt"/>
<path d="M199.20,441.13 C200.41,441.05 204.03,440.80 206.45,440.64 C208.87,440.47 211.29,440.31 213.70,440.15 C216.12,439.99 218.54,439.84 220.96,439.68 C223.37,439.53 225.79,439.38 228.21,439.23 C230.62,439.08 233.04,438.93 235.46,438.79 C237.88,438.65 240.29,438.50 242.71,438.36 C245.13,438.22 247.54,438.09 249.96,437.95 C252.38,437.82 254.80,437.69 257.21,437.56 C259.63,437.43 262.05,437.30 264.47,437.18 C266.88,437.05 269.30,436.93 271.72,436.81 C274.13,436.69 276.55,436.57 278.97,436.46 C281.39,436.34 283.80,436.23 286.22,436.12 C288.64,436.01 291.06,435.90 293.47,435.80 C295.89,435.69 298.31,435.59 300.72,435.49 C303.14,435.39 305.56,435.30 307.98,435.20 C310.39,435.11 312.81,435.01 315.23,434.93 C317.64,434.84 320.06,434.75 322.48,434.67 C324.90,434.58 327.31,434.50 329.73,434.42 C332.15,434.34 334.57,434.27 336.98,434.19 C339.40,434.12 341.82,434.05 344.23,433.98 C346.65,433.91 349.07,433.84 351.49,433.78 C353.90,433.72 356.32,433.66 358.74,433.60 C361.16,433.54 363.57,433.49 365.99,433.43 C368.41,433.38 370.82,433.33 373.24,433.28 C375.66,433.24 378.08,433.19 380.49,433.15 C382.91,433.11 385.33,433.07 387.74,433.03 C390.16,433.00 392.58,432.96 395.00,432.93 C397.41,432.90 399.83,432.87 402.25,432.85 C404.67,432.82 408.29,432.79 409.50,432.78" fill="none" stroke="#1e1e1e" stroke-width="1.75" stroke-linecap="butt"/>
<text transform="translate(489.70,404.30) scale(0.95,1)" class="b" text-anchor="start">SA</text>
<text transform="translate(412.30,415.80) scale(0.95,1)" class="b" text-anchor="start">SB</text>
<text transform="translate(412.80,426.50) scale(0.95,1)" class="b" text-anchor="start">SC</text>
<text transform="translate(412.80,437.00) scale(0.95,1)" class="b" text-anchor="start">SD</text>
<line x1="152.20" y1="470.30" x2="155.40" y2="470.30" stroke="#626262" stroke-width="1.0"/>
<text transform="translate(150.20,472.60) scale(0.95,1)" class="t" text-anchor="end">6</text>
<line x1="153.40" y1="488.33" x2="155.40" y2="488.33" stroke="#626262" stroke-width="0.9"/>
<line x1="152.20" y1="506.37" x2="155.40" y2="506.37" stroke="#626262" stroke-width="1.0"/>
<text transform="translate(150.20,508.67) scale(0.95,1)" class="t" text-anchor="end">4</text>
<line x1="153.40" y1="524.40" x2="155.40" y2="524.40" stroke="#626262" stroke-width="0.9"/>
<line x1="152.20" y1="542.43" x2="155.40" y2="542.43" stroke="#626262" stroke-width="1.0"/>
<text transform="translate(150.20,544.73) scale(0.95,1)" class="t" text-anchor="end">2</text>
<line x1="153.40" y1="560.47" x2="155.40" y2="560.47" stroke="#626262" stroke-width="0.9"/>
<line x1="152.20" y1="578.50" x2="155.40" y2="578.50" stroke="#626262" stroke-width="1.0"/>
<text transform="translate(150.20,580.80) scale(0.95,1)" class="t" text-anchor="end">0</text>
<text transform="translate(101.80,489.20) scale(0.96,1)" class="i" text-anchor="start">NPSHr[m]</text>
<line x1="509.50" y1="578.50" x2="512.50" y2="578.50" stroke="#626262" stroke-width="1.0"/>
<text transform="translate(514.00,580.40) scale(0.95,1)" class="t" text-anchor="start">0</text>
<line x1="509.50" y1="551.45" x2="511.50" y2="551.45" stroke="#626262" stroke-width="0.9"/>
<line x1="509.50" y1="524.40" x2="512.50" y2="524.40" stroke="#626262" stroke-width="1.0"/>
<text transform="translate(514.00,526.75) scale(0.95,1)" class="t" text-anchor="start">10</text>
<line x1="509.50" y1="497.35" x2="511.50" y2="497.35" stroke="#626262" stroke-width="0.9"/>
<line x1="509.50" y1="470.30" x2="512.50" y2="470.30" stroke="#626262" stroke-width="1.0"/>
<text transform="translate(514.00,472.65) scale(0.95,1)" class="t" text-anchor="start">20</text>
<text transform="translate(518.50,490.00) scale(0.96,1)" class="i" text-anchor="start">NPSHr[ft]</text>
<path d="M221.20,540.35 C222.10,540.47 224.82,540.86 226.63,541.06 C228.44,541.27 230.25,541.42 232.06,541.56 C233.87,541.69 235.68,541.80 237.49,541.89 C239.30,541.98 241.10,542.04 242.91,542.10 C244.72,542.16 246.53,542.21 248.34,542.25 C250.15,542.29 251.96,542.32 253.77,542.36 C255.58,542.39 257.39,542.42 259.20,542.45 C261.01,542.49 262.82,542.52 264.63,542.56 C266.44,542.60 268.25,542.64 270.06,542.68 C271.87,542.73 273.68,542.78 275.49,542.85 C277.30,542.91 279.10,542.97 280.91,543.05 C282.72,543.12 284.53,543.20 286.34,543.29 C288.15,543.37 289.96,543.47 291.77,543.57 C293.58,543.67 295.39,543.77 297.20,543.89 C299.01,544.00 300.82,544.11 302.63,544.23 C304.44,544.35 306.25,544.48 308.06,544.60 C309.87,544.73 311.68,544.86 313.49,544.98 C315.30,545.11 317.10,545.24 318.91,545.37 C320.72,545.49 322.53,545.62 324.34,545.74 C326.15,545.86 327.96,545.98 329.77,546.10 C331.58,546.21 333.39,546.32 335.20,546.42 C337.01,546.52 338.82,546.61 340.63,546.70 C342.44,546.78 344.25,546.86 346.06,546.92 C347.87,546.99 349.68,547.04 351.49,547.08 C353.30,547.12 355.10,547.15 356.91,547.17 C358.72,547.18 360.53,547.18 362.34,547.17 C364.15,547.15 365.96,547.13 367.77,547.08 C369.58,547.03 371.39,546.97 373.20,546.89 C375.01,546.81 376.82,546.71 378.63,546.60 C380.44,546.48 382.25,546.35 384.06,546.19 C385.87,546.04 387.68,545.86 389.49,545.67 C391.30,545.48 393.10,545.27 394.91,545.03 C396.72,544.80 398.53,544.55 400.34,544.27 C402.15,544.00 403.96,543.70 405.77,543.39 C407.58,543.07 409.39,542.74 411.20,542.38 C413.01,542.02 414.82,541.64 416.63,541.24 C418.44,540.84 420.25,540.42 422.06,539.98 C423.87,539.53 425.68,539.07 427.49,538.58 C429.30,538.09 431.10,537.58 432.91,537.05 C434.72,536.51 436.53,535.96 438.34,535.38 C440.15,534.80 441.96,534.19 443.77,533.57 C445.58,532.94 447.39,532.28 449.20,531.60 C451.01,530.92 452.82,530.22 454.63,529.49 C456.44,528.75 458.25,527.99 460.06,527.20 C461.87,526.41 463.68,525.58 465.49,524.73 C467.30,523.87 469.10,522.98 470.91,522.05 C472.72,521.13 474.53,520.16 476.34,519.16 C478.15,518.15 479.96,517.11 481.77,516.01 C483.58,514.92 486.30,513.15 487.20,512.58" fill="none" stroke="#1e1e1e" stroke-width="1.75" stroke-linecap="butt"/>
<path d="M220.80,564.22 C221.89,564.19 225.15,564.11 227.32,564.07 C229.50,564.03 231.67,563.99 233.85,563.97 C236.02,563.94 238.20,563.92 240.37,563.90 C242.55,563.89 244.72,563.88 246.90,563.88 C249.07,563.88 251.25,563.89 253.42,563.90 C255.60,563.91 257.77,563.92 259.94,563.94 C262.12,563.96 264.29,563.98 266.47,564.01 C268.64,564.04 270.82,564.07 272.99,564.11 C275.17,564.14 277.34,564.18 279.52,564.22 C281.69,564.26 283.87,564.31 286.04,564.35 C288.22,564.40 290.39,564.44 292.57,564.49 C294.74,564.54 296.91,564.59 299.09,564.64 C301.26,564.69 303.44,564.74 305.61,564.79 C307.79,564.84 309.96,564.90 312.14,564.95 C314.31,565.00 316.49,565.05 318.66,565.10 C320.84,565.14 323.01,565.19 325.19,565.24 C327.36,565.28 329.54,565.33 331.71,565.37 C333.89,565.41 336.06,565.44 338.23,565.48 C340.41,565.51 342.58,565.55 344.76,565.57 C346.93,565.60 349.11,565.62 351.28,565.64 C353.46,565.66 355.63,565.68 357.81,565.69 C359.98,565.70 362.16,565.70 364.33,565.70 C366.51,565.70 368.68,565.69 370.86,565.68 C373.03,565.66 375.20,565.64 377.38,565.61 C379.55,565.59 381.73,565.55 383.90,565.51 C386.08,565.47 388.25,565.42 390.43,565.36 C392.60,565.30 394.78,565.23 396.95,565.15 C399.13,565.08 401.30,564.99 403.48,564.90 C405.65,564.80 408.91,564.63 410.00,564.58" fill="none" stroke="#1e1e1e" stroke-width="1.75" stroke-linecap="butt"/>
<text transform="translate(209.00,543.50) scale(0.95,1)" class="b" text-anchor="start">SA</text>
<text transform="translate(183.80,568.40) scale(0.95,1)" class="b" text-anchor="start">SB-SC-SD</text>
<line x1="155.40" y1="605.70" x2="509.50" y2="605.70" stroke="#626262" stroke-width="1.0"/>
<line x1="155.40" y1="602.70" x2="155.40" y2="608.70" stroke="#626262" stroke-width="1.0"/>
<line x1="509.50" y1="603.20" x2="509.50" y2="608.20" stroke="#626262" stroke-width="1.0"/>
<line x1="155.40" y1="603.10" x2="155.40" y2="605.70" stroke="#626262" stroke-width="1.0"/>
<text transform="translate(155.40,599.20) scale(0.95,1)" class="t" text-anchor="middle">0</text>
<line x1="183.06" y1="604.20" x2="183.06" y2="605.70" stroke="#626262" stroke-width="0.9"/>
<line x1="210.73" y1="603.10" x2="210.73" y2="605.70" stroke="#626262" stroke-width="1.0"/>
<text transform="translate(210.73,599.20) scale(0.95,1)" class="t" text-anchor="middle">5</text>
<line x1="238.39" y1="604.20" x2="238.39" y2="605.70" stroke="#626262" stroke-width="0.9"/>
<line x1="266.06" y1="603.10" x2="266.06" y2="605.70" stroke="#626262" stroke-width="1.0"/>
<text transform="translate(266.06,599.20) scale(0.95,1)" class="t" text-anchor="middle">10</text>
<line x1="293.72" y1="604.20" x2="293.72" y2="605.70" stroke="#626262" stroke-width="0.9"/>
<line x1="321.38" y1="603.10" x2="321.38" y2="605.70" stroke="#626262" stroke-width="1.0"/>
<text transform="translate(321.38,599.20) scale(0.95,1)" class="t" text-anchor="middle">15</text>
<line x1="349.05" y1="604.20" x2="349.05" y2="605.70" stroke="#626262" stroke-width="0.9"/>
<line x1="376.71" y1="603.10" x2="376.71" y2="605.70" stroke="#626262" stroke-width="1.0"/>
<text transform="translate(376.71,599.20) scale(0.95,1)" class="t" text-anchor="middle">20</text>
<line x1="404.38" y1="604.20" x2="404.38" y2="605.70" stroke="#626262" stroke-width="0.9"/>
<line x1="432.04" y1="603.10" x2="432.04" y2="605.70" stroke="#626262" stroke-width="1.0"/>
<text transform="translate(432.04,599.20) scale(0.95,1)" class="t" text-anchor="middle">25</text>
<line x1="459.70" y1="604.20" x2="459.70" y2="605.70" stroke="#626262" stroke-width="0.9"/>
<line x1="487.37" y1="603.10" x2="487.37" y2="605.70" stroke="#626262" stroke-width="1.0"/>
<text transform="translate(487.37,599.20) scale(0.95,1)" class="t" text-anchor="middle">30</text>
<text transform="translate(508.80,599.20) scale(0.95,1)" class="t" text-anchor="middle">32</text>
<line x1="155.40" y1="605.70" x2="155.40" y2="608.30" stroke="#626262" stroke-width="1.0"/>
<text transform="translate(155.40,617.20) scale(0.95,1)" class="t" text-anchor="middle">0</text>
<line x1="174.32" y1="605.70" x2="174.32" y2="607.20" stroke="#626262" stroke-width="0.9"/>
<line x1="193.24" y1="605.70" x2="193.24" y2="608.30" stroke="#626262" stroke-width="1.0"/>
<text transform="translate(193.24,617.20) scale(0.95,1)" class="t" text-anchor="middle">57</text>
<line x1="212.17" y1="605.70" x2="212.17" y2="607.20" stroke="#626262" stroke-width="0.9"/>
<line x1="231.09" y1="605.70" x2="231.09" y2="608.30" stroke="#626262" stroke-width="1.0"/>
<text transform="translate(231.09,617.20) scale(0.95,1)" class="t" text-anchor="middle">114</text>
<line x1="250.01" y1="605.70" x2="250.01" y2="607.20" stroke="#626262" stroke-width="0.9"/>
<line x1="268.93" y1="605.70" x2="268.93" y2="608.30" stroke="#626262" stroke-width="1.0"/>
<text transform="translate(268.93,617.20) scale(0.95,1)" class="t" text-anchor="middle">171</text>
<line x1="287.86" y1="605.70" x2="287.86" y2="607.20" stroke="#626262" stroke-width="0.9"/>
<line x1="306.78" y1="605.70" x2="306.78" y2="608.30" stroke="#626262" stroke-width="1.0"/>
<text transform="translate(306.78,617.20) scale(0.95,1)" class="t" text-anchor="middle">228</text>
<line x1="325.70" y1="605.70" x2="325.70" y2="607.20" stroke="#626262" stroke-width="0.9"/>
<line x1="344.62" y1="605.70" x2="344.62" y2="608.30" stroke="#626262" stroke-width="1.0"/>
<text transform="translate(344.62,617.20) scale(0.95,1)" class="t" text-anchor="middle">285</text>
<line x1="363.54" y1="605.70" x2="363.54" y2="607.20" stroke="#626262" stroke-width="0.9"/>
<line x1="382.47" y1="605.70" x2="382.47" y2="608.30" stroke="#626262" stroke-width="1.0"/>
<text transform="translate(382.47,617.20) scale(0.95,1)" class="t" text-anchor="middle">342</text>
<line x1="401.39" y1="605.70" x2="401.39" y2="607.20" stroke="#626262" stroke-width="0.9"/>
<line x1="420.31" y1="605.70" x2="420.31" y2="608.30" stroke="#626262" stroke-width="1.0"/>
<text transform="translate(420.31,617.20) scale(0.95,1)" class="t" text-anchor="middle">399</text>
<line x1="439.23" y1="605.70" x2="439.23" y2="607.20" stroke="#626262" stroke-width="0.9"/>
<line x1="458.16" y1="605.70" x2="458.16" y2="608.30" stroke="#626262" stroke-width="1.0"/>
<text transform="translate(458.16,617.20) scale(0.95,1)" class="t" text-anchor="middle">456</text>
<line x1="477.08" y1="605.70" x2="477.08" y2="607.20" stroke="#626262" stroke-width="0.9"/>
<line x1="496.00" y1="605.70" x2="496.00" y2="608.30" stroke="#626262" stroke-width="1.0"/>
<text transform="translate(496.00,617.20) scale(0.95,1)" class="t" text-anchor="middle">513</text>
<text transform="translate(516.90,601.20) scale(0.96,1)" class="i" text-anchor="start">Q[m&#179;/h]</text>
<text transform="translate(516.90,616.20) scale(0.96,1)" class="i" text-anchor="start">Q[l/min]</text>
</svg>
</body></html>
